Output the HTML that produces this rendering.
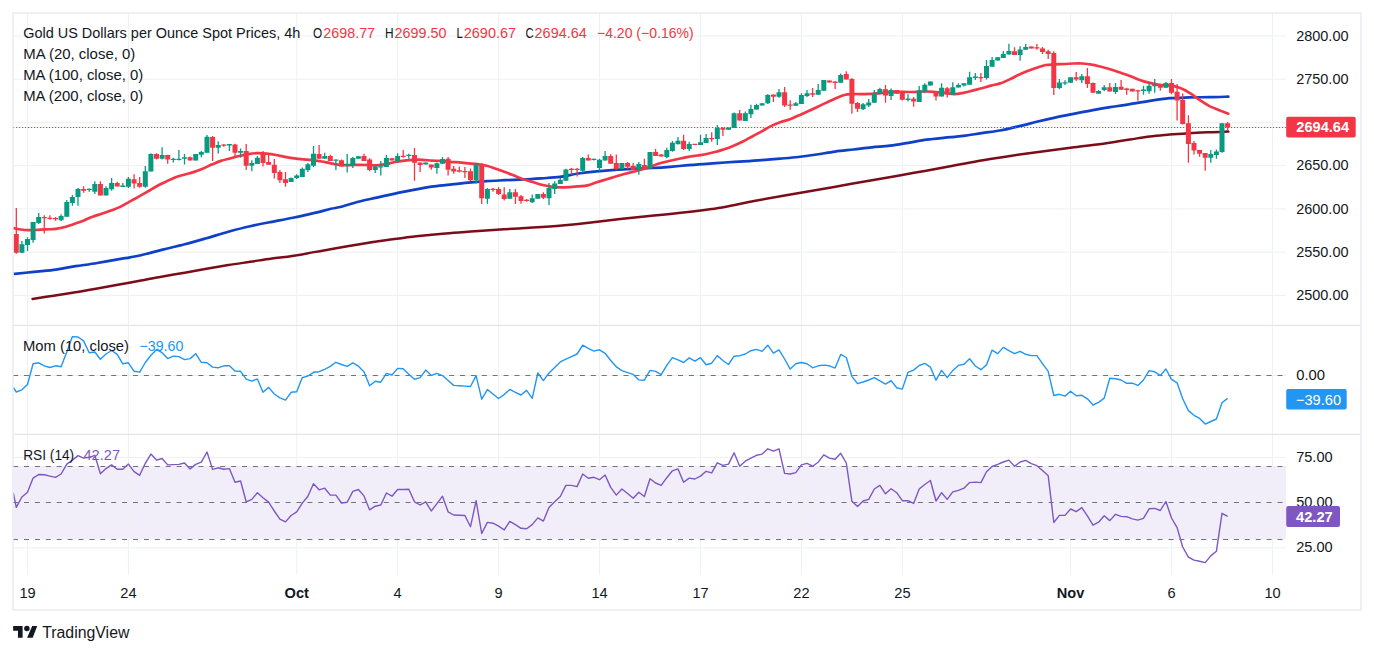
<!DOCTYPE html>
<html><head><meta charset="utf-8"><title>Gold Spot 4h</title>
<style>html,body{margin:0;padding:0;background:#fff}body{width:1374px;height:654px;overflow:hidden;font-family:"Liberation Sans",sans-serif}svg text{white-space:pre}</style>
</head><body>
<svg width="1374" height="654" viewBox="0 0 1374 654" style="display:block">
<rect width="1374" height="654" fill="#fff"/>
<rect x="14" y="466" width="1272" height="73" fill="#f1eefa"/>
<path d="M27.5 14V574.8M128.4 14V574.8M296.7 14V574.8M397.6 14V574.8M498.6 14V574.8M599.5 14V574.8M700.5 14V574.8M801.4 14V574.8M902.4 14V574.8M1070.6 14V574.8M1171.6 14V574.8M1272.5 14V574.8M14 35.9H1286M14 79.2H1286M14 122.4H1286M14 165.7H1286M14 208.9H1286M14 252.2H1286M14 295.4H1286M14 375.5H1286M14 457.4H1286M14 502.5H1286M14 547.8H1286" stroke="#eef0f2" stroke-width="1" fill="none"/>
<path d="M14 325.4H1360M14 434.4H1360" stroke="#e2e4ee" stroke-width="1.2" fill="none"/>
<rect x="13" y="13" width="1348" height="597" fill="none" stroke="#eef0f5" stroke-width="2"/>
<clipPath id="c"><rect x="13.6" y="14" width="1272.4" height="561"/></clipPath>
<g clip-path="url(#c)">
<path d="M13.1 375.5H1286M13.1 466.5H1286M13.1 502.5H1286M13.1 539.5H1286" stroke="#70737e" stroke-width="1.2" stroke-dasharray="5 5.9" fill="none"/>
<path d="M32.5 298.9C36 298.4 46.5 296.8 53.7 295.7C60.9 294.6 68.2 293.4 75.5 292.2C82.8 291 90 289.7 97.3 288.4C104.6 287.1 111.9 285.9 119.2 284.6C126.5 283.3 133.7 282 141 280.6C148.3 279.2 155.5 277.7 162.8 276.4C170.1 275.1 177.4 274 184.7 272.7C192 271.4 199.2 270.1 206.5 268.8C213.8 267.5 221 266.3 228.3 265.1C235.6 263.9 242.9 262.9 250.2 261.8C257.5 260.7 264.7 259.5 272 258.5C279.3 257.5 284.3 257.3 293.8 255.8C303.3 254.3 318.4 251.3 329.1 249.4C339.8 247.5 348.5 246 358.2 244.4C367.9 242.8 377.6 241.4 387.3 240.1C397 238.8 406.7 237.4 416.4 236.3C426.1 235.2 435.9 234.2 445.6 233.4C455.3 232.6 465 232 474.7 231.3C484.4 230.6 494.1 229.9 503.8 229.3C513.5 228.7 523.2 228.1 532.9 227.5C542.6 226.9 552.3 226.3 562 225.5C571.7 224.7 581.4 223.7 591.1 222.6C600.8 221.5 610.5 220.2 620.2 219.1C629.9 218 639.6 216.9 649.3 215.9C659 214.9 666.4 214.4 678.5 213C690.6 211.6 709.4 209.4 722 207.4C734.6 205.4 743.3 203 754 201C764.7 199 775.4 197.1 786.1 195.2C796.8 193.3 807.4 191.7 818.1 189.8C828.8 187.9 839.4 185.9 850.1 184C860.8 182.1 871.4 180.5 882.1 178.6C892.8 176.7 903.4 174.7 914.1 172.8C924.8 170.9 935.5 169.1 946.2 167.1C956.9 165.1 967.5 162.9 978.2 161C988.9 159.1 999.5 157.5 1010.2 155.9C1020.9 154.3 1031.5 152.9 1042.2 151.4C1052.9 149.9 1063.5 148.6 1074.2 147.2C1084.9 145.8 1097 144.5 1106.3 143.2C1115.6 141.9 1122.7 140.6 1129.9 139.5C1137.2 138.4 1143.2 137.3 1149.8 136.5C1156.4 135.7 1163 135.2 1169.6 134.6C1176.2 134 1182.9 133.6 1189.5 133.2C1196.1 132.8 1202.9 132.5 1209.4 132.2C1215.9 131.9 1225.2 131.7 1228.3 131.6" stroke="#7d0c1a" stroke-width="2.5" fill="none" stroke-linecap="round" stroke-linejoin="round"/>
<path d="M14.8 273.8C17.6 273.5 25.3 272.8 31.8 272.1C38.3 271.5 46.4 270.9 53.7 269.9C61 268.9 68.2 267.3 75.5 266.2C82.8 265.1 90 264.2 97.3 263C104.6 261.8 113.7 260.1 119.2 259.2C124.7 258.2 126.5 258 130.1 257.3C133.7 256.6 135.6 256.5 141 255.2C146.4 253.9 155.5 251.4 162.8 249.6C170.1 247.8 177.4 246.2 184.7 244.3C192 242.4 199.2 240.3 206.5 238.2C213.8 236.1 221 233.7 228.3 231.7C235.6 229.7 242.9 227.8 250.2 226.2C257.5 224.5 264.7 223.2 272 221.8C279.3 220.4 287.4 218.9 294.2 217.5C301 216.1 306.5 214.8 312.6 213.4C318.7 212 326.3 209.9 330.9 208.8C335.5 207.7 335.4 208.2 340 207C344.6 205.8 352.2 203.4 358.3 201.8C364.4 200.2 370.6 199 376.7 197.6C382.8 196.2 388.9 194.9 395 193.6C401.1 192.3 407.3 191.1 413.4 189.9C419.5 188.7 425.6 187.5 431.7 186.6C437.8 185.7 444 185.3 450.1 184.6C456.2 183.9 462.2 183.2 468.3 182.6C474.4 182 480.6 181.5 486.7 181.1C492.8 180.7 498.9 180.5 505 180.2C511.1 179.9 517.3 179.7 523.4 179.4C529.5 179.1 535.6 178.7 541.7 178.3C547.8 177.9 554 177.7 560.1 176.9C566.2 176.1 572.2 174.4 578.3 173.5C584.4 172.6 590.6 171.9 596.7 171.3C602.8 170.7 608.9 170.2 615 169.8C621.1 169.4 627.3 169.2 633.4 168.9C639.5 168.6 645.6 168.3 651.7 168C657.8 167.7 664 167.3 670.1 166.8C676.2 166.3 682.2 165.7 688.3 165.2C694.4 164.7 700.6 164.2 706.7 163.8C712.8 163.4 718.9 162.9 725 162.5C731.1 162.1 737.3 161.8 743.4 161.4C749.5 161 755.6 160.6 761.7 160.1C767.8 159.6 774 159.1 780.1 158.6C786.2 158.1 792.2 157.7 798.3 157C804.4 156.3 810.6 155.4 816.7 154.5C822.8 153.6 828.9 152.4 835 151.6C841.1 150.8 847.3 150.2 853.4 149.5C859.5 148.8 865.6 147.9 871.7 147.3C877.8 146.7 884 146.4 890.1 145.7C896.2 144.9 902.2 143.8 908.3 142.8C914.4 141.8 920.6 140.5 926.7 139.7C932.8 138.8 938.9 138.3 945 137.7C951.1 137.1 957.3 136.7 963.4 135.9C969.5 135.1 975.6 134 981.7 133.1C987.8 132.2 994 131.6 1000.1 130.5C1006.2 129.4 1012.2 127.9 1018.3 126.4C1024.4 125 1030.6 123.3 1036.7 121.8C1042.8 120.3 1048.9 118.9 1055 117.6C1061.1 116.3 1067.3 115.1 1073.4 113.9C1079.5 112.7 1085.6 111.4 1091.7 110.3C1097.8 109.2 1103.7 108.2 1110.1 107.2C1116.5 106.2 1123.3 105.2 1129.9 104.1C1136.5 103 1143.2 101.8 1149.8 100.8C1156.4 99.8 1163 98.8 1169.6 98.2C1176.2 97.6 1182.9 97.6 1189.5 97.4C1196.1 97.2 1202.9 97.3 1209.4 97.2C1215.9 97.1 1225.2 96.7 1228.3 96.6" stroke="#0e41c8" stroke-width="2.7" fill="none" stroke-linecap="round" stroke-linejoin="round"/>
<path d="M13.7 228.1C14.9 228.3 18.6 229.2 21 229.5C23.4 229.8 25.6 230 28.3 230.1C31.1 230.2 34.4 230 37.5 229.9C40.6 229.8 43.6 229.6 46.7 229.4C49.8 229.2 52.9 229.2 55.9 228.8C58.9 228.4 62 227.8 65 227C68 226.2 71.1 225.1 74.2 224C77.3 222.9 80.3 221.9 83.4 220.7C86.5 219.5 89.5 217.8 92.6 216.7C95.6 215.5 98.7 214.8 101.7 213.8C104.8 212.8 107.8 211.8 110.9 210.6C114 209.4 117 208.4 120.1 206.9C123.1 205.4 126.2 203.5 129.2 201.8C132.2 200.1 135.2 198.6 138.3 196.9C141.4 195.2 144.4 193.5 147.5 191.7C150.6 189.9 153.6 187.9 156.7 186.2C159.8 184.5 162.8 183.2 165.9 181.7C169 180.2 171.9 178.6 175 177.4C178.1 176.2 181.1 175.6 184.2 174.7C187.3 173.8 190.3 173.1 193.4 172.1C196.5 171.1 199.6 170.1 202.6 168.8C205.6 167.6 208.6 165.9 211.7 164.6C214.8 163.3 217.8 161.9 220.9 160.9C224 159.9 227.1 159.3 230.1 158.5C233.1 157.7 236.2 156.7 239.2 156C242.2 155.3 245.2 154.6 248.3 154.1C251.4 153.6 254.4 153.3 257.5 153.2C260.6 153.1 263.6 153.3 266.7 153.6C269.8 153.9 272.8 154.4 275.9 155C278.9 155.6 281.9 156.3 285 156.9C288.1 157.5 291.1 157.9 294.2 158.3C297.3 158.7 300.3 159 303.4 159.3C306.5 159.6 309.6 159.8 312.6 160.2C315.7 160.6 318.6 161 321.7 161.5C324.8 162 327.8 162.8 330.9 163.3C334 163.9 337.1 164.5 340.1 164.8C343.2 165.1 346.2 165.1 349.2 165.1C352.2 165.1 355.2 164.8 358.3 164.8C361.4 164.8 364.4 164.9 367.5 165C370.6 165.1 373.6 165.4 376.7 165.3C379.8 165.2 382.8 164.8 385.9 164.2C388.9 163.6 391.9 162.6 395 162C398.1 161.4 401.1 161 404.2 160.6C407.3 160.2 410.3 159.9 413.4 159.8C416.5 159.7 419.6 159.7 422.6 159.8C425.7 159.9 428.6 160.4 431.7 160.6C434.8 160.8 437.8 160.7 440.9 160.9C444 161.1 447.1 161.6 450.1 161.8C453.2 162.1 456.2 162.2 459.2 162.4C462.2 162.7 465.2 163 468.3 163.3C471.4 163.6 474.4 163.8 477.5 164.2C480.6 164.6 483.6 164.9 486.7 165.7C489.8 166.5 492.8 167.7 495.9 168.8C498.9 169.9 501.9 171 505 172.1C508.1 173.2 511.1 174.4 514.2 175.6C517.3 176.8 520.3 178.2 523.4 179.3C526.5 180.4 529.5 181.1 532.6 182C535.7 182.9 538.7 184 541.7 184.8C544.8 185.6 547.8 186.2 550.9 186.6C554 187 557 187.3 560.1 187.4C563.2 187.5 566.2 187.3 569.2 187.1C572.2 186.9 575.2 186.6 578.3 186.3C581.3 186 584.4 186.1 587.5 185.4C590.6 184.7 593.6 183.3 596.7 182.3C599.8 181.3 602.9 180.4 605.9 179.5C608.9 178.6 612 177.7 615 176.8C618 175.9 621.1 174.8 624.2 174C627.3 173.2 630.3 172.5 633.4 171.7C636.5 170.9 639.5 170.2 642.6 169.3C645.7 168.4 648.7 167.2 651.7 166.1C654.8 165 657.8 163.9 660.9 163C664 162.1 667 161.5 670.1 160.8C673.2 160.1 676.2 159.4 679.2 158.7C682.2 158 685.2 157.3 688.3 156.8C691.3 156.3 694.4 156 697.5 155.5C700.6 155 703.6 154.6 706.7 154C709.8 153.4 712.9 152.6 715.9 151.8C718.9 151 722 150.2 725 149.1C728 148 731.1 146.7 734.2 145.4C737.3 144.1 740.3 142.7 743.4 141.2C746.5 139.7 749.5 137.8 752.6 136.2C755.7 134.5 758.7 133 761.7 131.3C764.8 129.6 767.8 127.6 770.9 126.1C774 124.6 777 123.3 780.1 122.2C783.2 121.1 786.2 120.7 789.2 119.6C792.2 118.5 795.2 116.9 798.3 115.6C801.3 114.3 804.4 113 807.5 111.6C810.6 110.2 813.6 108.8 816.7 107.3C819.8 105.8 822.9 104.3 825.9 102.9C828.9 101.5 832 100 835 98.7C838 97.4 841.1 95.8 844.2 95C847.3 94.2 850.3 94.2 853.4 94.1C856.5 93.9 859.5 94.1 862.6 94.1C865.7 94 868.7 93.9 871.7 93.8C874.8 93.7 877.8 93.5 880.9 93.2C884 92.9 887 92.4 890.1 92.2C893.2 92 896.2 91.8 899.2 91.8C902.2 91.8 905.2 92 908.3 92C911.3 92 914.4 91.9 917.5 91.8C920.6 91.7 923.6 91.5 926.7 91.5C929.8 91.5 932.9 91.8 935.9 92C938.9 92.2 942 92.5 945 92.9C948 93.3 951.1 94.2 954.2 94.2C957.3 94.2 960.3 93.5 963.4 92.9C966.5 92.3 969.5 91.4 972.6 90.6C975.7 89.8 978.7 89.1 981.7 88.3C984.8 87.5 987.8 86.4 990.9 85.6C994 84.8 997 84.4 1000.1 83.4C1003.2 82.4 1006.2 81 1009.2 79.6C1012.2 78.2 1015.2 76.4 1018.3 75C1021.3 73.6 1024.4 72.2 1027.5 71C1030.6 69.8 1033.6 68.7 1036.7 67.7C1039.8 66.7 1042.9 65.5 1045.9 65C1049 64.5 1052 64.6 1055 64.4C1058 64.2 1061.1 64.2 1064.2 64C1067.3 63.9 1070.3 63.6 1073.4 63.5C1076.5 63.4 1079.5 63.3 1082.6 63.5C1085.6 63.7 1088.7 64 1091.7 64.6C1094.8 65.1 1097.8 66 1100.9 66.8C1104 67.6 1106.9 68.2 1110.1 69.2C1113.3 70.2 1116.6 71.4 1119.9 72.5C1123.2 73.6 1126.6 74.7 1129.9 75.9C1133.2 77.1 1136.5 78.7 1139.8 79.9C1143.1 81.1 1146.5 82.1 1149.8 82.9C1153.1 83.7 1156.4 84.5 1159.7 84.9C1163 85.3 1166.3 84.9 1169.6 85.4C1172.9 85.9 1176.3 86.6 1179.6 87.8C1182.9 89 1186.2 90.8 1189.5 92.8C1192.8 94.8 1196.2 97.6 1199.5 99.8C1202.8 102 1206.1 104.3 1209.4 106.1C1212.7 107.8 1216.2 109 1219.3 110.3C1222.4 111.6 1226.8 113.1 1228.3 113.7" stroke="#f23645" stroke-width="2.7" fill="none" stroke-linecap="round" stroke-linejoin="round"/>
<path d="M21.9 240.9V252.8M27.5 237.2V251M33.1 222V242.8M38.7 213V224M61.1 214.3V221.1M66.8 200V216.7M72.4 195V205.7M78 188.1V205.7M89.2 188.6V191.7M94.8 181.3V194.1M106 186.2V195.6M111.6 178V190.8M122.8 183.1V186.8M128.4 176.9V187.9M145.3 166.1V187.7M150.9 153.2V171.6M162.1 147.3V159.6M173.3 157.8V162.4M178.9 149.9V160.6M184.5 154.1V164.6M195.7 154.1V160.6M201.3 151V157.2M207 134.9V152.7M218.2 141.3V153.6M229.4 144V151M240.6 148.6V157.8M251.8 160.2V171.2M257.4 156V163.9M291.1 177.4V182M296.7 174.3V178.9M302.3 167.5V177.1M307.9 162.9V171.9M313.5 145.9V167M324.7 152.8V158.7M335.9 159.6V170.1M347.2 154.1V172.5M352.8 156.9V167.9M358.4 156.3V158.7M375.2 166.1V173M380.8 160.9V175.6M386.4 155V167M397.6 153.2V160.9M408.8 153.8V158.7M425.7 162.4V164.6M436.9 162.4V173.8M442.5 156.9V163.7M476.1 163.3V183.5M487.4 188.1V203.7M509.8 189V198.7M532.2 194.5V203.1M537.8 194.1V198.7M549 182.9V205M554.7 181.3V193.9M560.3 178V183.9M565.9 168.8V180.7M582.7 157V172.9M593.9 158.8V160.6M599.5 158.8V171.1M605.1 150.9V160.6M621.9 163V168.9M638.8 161.9V174.8M650 152V168.5M666.8 147.8V158.3M672.4 141V151.8M678 137V144.3M689.2 141.7V150.9M700.5 134.8V144.9M706.1 134V143M717.3 124.9V144.9M728.5 127.4V129.8M734.1 112.4V128M745.3 111.5V121M750.9 104.7V117.9M756.5 103.8V109.6M762.1 103.2V105.6M767.8 94V104.1M779 88.9V97.7M795.8 102V105.7M801.4 93.2V103.9M807 90.1V96.9M818.2 84V94.7M823.8 80V90.8M840.7 73.6V82.8M863.1 102.9V110.1M868.7 99.1V107M874.3 89.9V102.8M879.9 87.7V93.8M891.1 88.6V100M908 94.2V101.6M919.2 86V101.9M924.8 83.2V93.3M930.4 81.4V85.6M941.6 83.2V96.4M952.8 82.3V94.8M958.4 83.2V87.4M964 83.2V86.5M969.6 71.8V84.7M975.3 73.1V79.9M986.5 59.9V79.5M992.1 57V66.7M997.7 57.2V60.6M1003.3 51.1V57.9M1008.9 43.8V54.6M1020.1 46.2V60.7M1025.7 43.9V49.7M1059.4 79.1V89.2M1065 80.2V85.1M1070.6 77.2V82.8M1081.8 74.1V82.9M1098.6 90.1V93.8M1104.2 85.1V91.2M1115.5 82.9V93.9M1143.5 85.8V94.8M1149.1 82.9V93.8M1154.7 78.9V92.8M1165.9 81.9V87.8M1210.8 150.1V162.8M1216.4 149.5V158.8M1222 123.2V152.8" stroke="#089981" stroke-width="1.3" fill="none"/>
<path d="M19.4 244.2H24.4V252.8H19.4ZM25 239.1H30V245H25ZM30.6 222H35.6V240H30.6ZM36.2 217.1H41.2V222.9H36.2ZM58.6 216.1H63.6V220.2H58.6ZM64.3 202H69.3V216.7H64.3ZM69.9 196.9H74.9V202.9H69.9ZM75.5 189H80.5V196.9H75.5ZM86.7 188.8H91.7V190.1H86.7ZM92.3 184H97.3V191.7H92.3ZM103.5 188.1H108.5V195.6H103.5ZM109.1 183.1H114.1V189.2H109.1ZM120.3 185.6H125.3V186.9H120.3ZM125.9 178.7H130.9V186.8H125.9ZM142.8 171.2H147.8V186.8H142.8ZM148.4 154.1H153.4V171.6H148.4ZM159.6 155H164.6V158.7H159.6ZM170.8 158.8H175.8V160.1H170.8ZM176.4 158.8H181.4V160.1H176.4ZM182 157.2H187V158.7H182ZM193.2 154.1H198.2V160.6H193.2ZM198.8 151.9H203.8V154.7H198.8ZM204.5 136.7H209.5V152.7H204.5ZM215.7 145H220.7V147.7H215.7ZM226.9 144.1H231.9V145.4H226.9ZM238.1 151H243.1V152.8H238.1ZM249.3 162.9H254.3V165.7H249.3ZM254.9 157.8H259.9V163.9H254.9ZM288.6 178H293.6V182H288.6ZM294.2 175.6H299.2V178H294.2ZM299.8 168.8H304.8V177.1H299.8ZM305.4 164.2H310.4V170.1H305.4ZM311 153.8H316V165.7H311ZM322.2 156H327.2V158.7H322.2ZM333.4 159.5H338.4V160.8H333.4ZM344.7 164.1H349.7V165.4H344.7ZM350.3 158H355.3V166.1H350.3ZM355.9 156.3H360.9V158.7H355.9ZM372.7 166.6H377.7V170.1H372.7ZM378.3 166.2H383.3V167.5H378.3ZM383.9 158H388.9V167H383.9ZM395.1 156H400.1V160.9H395.1ZM406.3 154.8H411.3V156.1H406.3ZM423.2 162.4H428.2V164.6H423.2ZM434.4 163.3H439.4V167.9H434.4ZM440 159.1H445V163.7H440ZM473.6 164.6H478.6V180.2H473.6ZM484.9 189H489.9V198.7H484.9ZM507.3 192.3H512.3V198.7H507.3ZM529.7 198.2H534.7V202.2H529.7ZM535.3 194.1H540.3V198.7H535.3ZM546.5 188.1H551.5V198.2H546.5ZM552.2 183.5H557.2V189H552.2ZM557.8 179.8H562.8V183.9H557.8ZM563.4 169.4H568.4V180.7H563.4ZM580.2 157.9H585.2V170.7H580.2ZM591.4 158.7H596.4V160H591.4ZM597 159.7H602V168H597ZM602.6 156.1H607.6V160.6H602.6ZM619.4 163H624.4V168.9H619.4ZM636.3 163.9H641.3V169.8H636.3ZM647.5 152H652.5V168.5H647.5ZM664.3 150H669.3V157H664.3ZM669.9 142.8H674.9V150.9H669.9ZM675.5 140.8H680.5V144.3H675.5ZM686.7 144.1H691.7V149.1H686.7ZM698 142.3H703V144.9H698ZM703.6 138.1H708.6V143H703.6ZM714.8 128H719.8V139H714.8ZM726 127.4H731V129.8H726ZM731.6 113.3H736.6V128H731.6ZM742.8 113.3H747.8V121H742.8ZM748.4 109.1H753.4V114.2H748.4ZM754 105H759V109.6H754ZM759.6 103.2H764.6V105.6H759.6ZM765.3 95H770.3V103.2H765.3ZM776.5 92.2H781.5V96.8H776.5ZM793.3 103.3H798.3V105.7H793.3ZM798.9 95H803.9V103.9H798.9ZM804.5 93.2H809.5V96H804.5ZM815.7 90.1H820.7V94.7H815.7ZM821.3 80H826.3V90.8H821.3ZM838.2 74.9H843.2V82.8H838.2ZM860.6 104.2H865.6V109.2H860.6ZM866.2 102.4H871.2V105.5H866.2ZM871.8 93.2H876.8V102.8H871.8ZM877.4 89H882.4V93.8H877.4ZM888.6 89.9H893.6V96H888.6ZM905.5 98.6H910.5V99.9H905.5ZM916.7 90.2H921.7V101.9H916.7ZM922.3 84.7H927.3V91.5H922.3ZM927.9 81.4H932.9V85.6H927.9ZM939.1 87.8H944.1V96.4H939.1ZM950.3 87.2H955.3V94.8H950.3ZM955.9 85H960.9V87.4H955.9ZM961.5 83.2H966.5V85.6H961.5ZM967.1 77.2H972.1V84.7H967.1ZM972.8 76.6H977.8V77.9H972.8ZM984 66.1H989V78.1H984ZM989.6 59.9H994.6V66.7H989.6ZM995.2 57.2H1000.2V60.6H995.2ZM1000.8 53.9H1005.8V57.9H1000.8ZM1006.4 51.1H1011.4V54.6H1006.4ZM1017.6 49.4H1022.6V54.9H1017.6ZM1023.2 47H1028.2V49.7H1023.2ZM1056.9 82.4H1061.9V87.9H1056.9ZM1062.5 82.2H1067.5V83.5H1062.5ZM1068.1 77.2H1073.1V82.8H1068.1ZM1079.3 76.3H1084.3V80.2H1079.3ZM1096.1 91H1101.1V93.8H1096.1ZM1101.7 87.3H1106.7V90.1H1101.7ZM1113 87H1118V91.9H1113ZM1141 89.6H1146V91H1141ZM1146.6 85.8H1151.6V91.2H1146.6ZM1152.2 84.9H1157.2V86.2H1152.2ZM1163.4 83.1H1168.4V87.8H1163.4ZM1208.3 154H1213.3V157.8H1208.3ZM1213.9 151.5H1218.9V155H1213.9ZM1219.5 123.2H1224.5V152H1219.5Z" fill="#089981"/>
<path d="M16.3 207.9V253.8M44.3 215.2V233.6M49.9 215.2V219.8M55.5 217V220.7M83.6 186.2V192.8M100.4 181.3V195.6M117.2 181.8V186.4M134.1 174.3V188.6M139.7 177.1V187.7M156.5 153.2V159.6M167.7 154.7V163.7M190.1 156.5V160.6M212.6 136.1V160.9M223.8 144V146.8M235 143.7V156M246.2 144V170.1M263 151V166.4M268.6 154.7V164.8M274.3 159.1V178.5M279.9 170.1V182.9M285.5 172.1V186.8M319.1 145V158.7M330.3 154.7V161.1M341.5 159.6V166.4M364 153.8V160.9M369.6 158.3V171.2M392 158.3V160.6M403.2 149.9V157.8M414.5 148.1V180.7M420.1 162.4V171.9M431.3 164.6V169.7M448.1 156.9V175.6M453.7 166.1V173.8M459.3 166.6V172.5M464.9 167V178M470.5 168.4V181.1M481.7 162.9V204M493 188.1V191.7M498.6 187.2V194.9M504.2 187.2V200.4M515.4 189V204M521 195V203.7M526.6 199.1V201.8M543.4 192.3V199.1M571.5 168V174.8M577.1 168V176.6M588.3 154.6V160.6M610.7 154.2V163.8M616.3 154.6V169.8M627.6 161.9V168.9M633.2 163V169.8M644.4 158.8V168.9M655.6 149.1V156.1M661.2 153.9V156.4M683.6 134.8V150M694.9 144V144.9M711.7 132.2V141.7M722.9 127.1V135.9M739.7 110V120.6M773.4 94.6V101.9M784.6 87.1V106.9M790.2 100.2V109.7M812.6 88.1V96.9M829.4 80.4V82.6M835.1 81.3V89M846.3 71.2V79.4M851.9 78V113.8M857.5 102V111.9M885.5 85V102.8M896.7 90.1V93.7M902.3 92.4V100.6M913.6 97V106.7M936 91.5V100.6M947.2 86.9V97.5M980.9 73.1V81.9M1014.5 47.2V54.9M1031.3 46.6V48.4M1036.9 43.9V49.7M1042.5 47V53.9M1048.2 49.7V59.1M1053.8 51.2V94.9M1076.2 71.9V81.1M1087.4 68.1V87.9M1093 82.4V92.8M1109.8 82.9V91.6M1121.1 79.9V89.8M1126.7 87.8V94.8M1132.3 88.8V91.4M1137.9 89.8V100.8M1160.3 84.9V90.8M1171.5 78.9V94.2M1177.1 83.9V120.6M1182.7 93.4V124.6M1188.4 115.3V162.8M1194 141.1V154.4M1199.6 150.1V156.8M1205.2 153V170.7M1227.6 122V130" stroke="#f23645" stroke-width="1.3" fill="none"/>
<path d="M13.8 234.1H18.8V252.8H13.8ZM41.8 216.9H46.8V218.2H41.8ZM47.4 217.8H52.4V219.1H47.4ZM53 218H58V219.3H53ZM81.1 189H86.1V190.8H81.1ZM97.9 184H102.9V195.6H97.9ZM114.7 183.1H119.7V186.4H114.7ZM131.6 179.3H136.6V183.5H131.6ZM137.2 183.1H142.2V186.8H137.2ZM154 154.1H159V158.7H154ZM165.2 155H170.2V159.6H165.2ZM187.6 157.2H192.6V160.6H187.6ZM210.1 137.1H215.1V147.7H210.1ZM221.3 144.5H226.3V145.8H221.3ZM232.5 144.6H237.5V152.7H232.5ZM243.7 151H248.7V165.7H243.7ZM260.5 153.6H265.5V162.9H260.5ZM266.1 162H271.1V164.8H266.1ZM271.8 164.8H276.8V173H271.8ZM277.4 172.1H282.4V180.2H277.4ZM283 179.3H288V182.9H283ZM316.6 154.1H321.6V158.7H316.6ZM327.8 156H332.8V161.1H327.8ZM339 160.2H344V166.4H339ZM361.5 156H366.5V160.9H361.5ZM367.1 159.6H372.1V170.1H367.1ZM389.5 158.3H394.5V160.6H389.5ZM400.7 155.8H405.7V157.1H400.7ZM412 155H417V162.8H412ZM417.6 162.4H422.6V165.1H417.6ZM428.8 164.6H433.8V167.5H428.8ZM445.6 158.7H450.6V169.7H445.6ZM451.2 168.8H456.2V171.6H451.2ZM456.8 170.3H461.8V171.7H456.8ZM462.4 170.9H467.4V172.2H462.4ZM468 171.2H473V180.2H468ZM479.2 164.6H484.2V198.2H479.2ZM490.5 188.8H495.5V190.1H490.5ZM496.1 189H501.1V193.9H496.1ZM501.7 194.5H506.7V199.1H501.7ZM512.9 192.3H517.9V196.7H512.9ZM518.5 196.3H523.5V200.9H518.5ZM524.1 199.8H529.1V201.1H524.1ZM540.9 194.1H545.9V197.8H540.9ZM569 168.7H574V170H569ZM574.6 168.7H579.6V170H574.6ZM585.8 157.9H590.8V160.6H585.8ZM608.2 156.1H613.2V163.8H608.2ZM613.8 163H618.8V168.9H613.8ZM625.1 163H630.1V166.7H625.1ZM630.7 165.8H635.7V169.8H630.7ZM641.9 164.9H646.9V168H641.9ZM653.1 152H658.1V156.1H653.1ZM658.7 154.6H663.7V156.4H658.7ZM681.1 140.8H686.1V149.1H681.1ZM692.4 143.8H697.4V145.1H692.4ZM709.2 137.9H714.2V139.2H709.2ZM720.4 128H725.4V129.8H720.4ZM737.2 113.3H742.2V120.6H737.2ZM770.9 94.6H775.9V96.8H770.9ZM782.1 92.2H787.1V105.6H782.1ZM787.7 104.4H792.7V105.7H787.7ZM810.1 93.2H815.1V94.7H810.1ZM826.9 80.4H831.9V82.6H826.9ZM832.6 81.6H837.6V83H832.6ZM843.8 73.9H848.8V79.4H843.8ZM849.4 78.9H854.4V103.7H849.4ZM855 102.9H860V108.8H855ZM883 89.2H888V95.6H883ZM894.2 90.1H899.2V93.7H894.2ZM899.8 92.4H904.8V99.7H899.8ZM911.1 98.8H916.1V101.6H911.1ZM933.5 91.5H938.5V96.4H933.5ZM944.7 88.3H949.7V94.6H944.7ZM978.4 77H983.4V78.3H978.4ZM1012 51.2H1017V54.9H1012ZM1028.8 46.6H1033.8V48.4H1028.8ZM1034.4 47.3H1039.4V48.6H1034.4ZM1040 48.4H1045V52.1H1040ZM1045.7 51.2H1050.7V53.9H1045.7ZM1051.3 53H1056.3V87.9H1051.3ZM1073.7 77.2H1078.7V79.6H1073.7ZM1084.9 76.3H1089.9V83.9H1084.9ZM1090.5 82.9H1095.5V92.8H1090.5ZM1107.3 87.3H1112.3V91.6H1107.3ZM1118.6 86.8H1123.6V89.8H1118.6ZM1124.2 88.6H1129.2V90H1124.2ZM1129.8 88.8H1134.8V91.4H1129.8ZM1135.4 90.2H1140.4V91.6H1135.4ZM1157.8 84.9H1162.8V87.8H1157.8ZM1169 82.9H1174V92.8H1169ZM1174.6 91.8H1179.6V100.4H1174.6ZM1180.2 99.8H1185.2V124H1180.2ZM1185.9 123.2H1190.9V143.9H1185.9ZM1191.5 143.1H1196.5V150.5H1191.5ZM1197.1 150.1H1202.1V153.8H1197.1ZM1202.7 153H1207.7V157.8H1202.7ZM1225.1 123.2H1230.1V127.6H1225.1Z" fill="#f23645"/>
<path d="M13 127.5H1286" stroke="#f23645" stroke-width="1.2" stroke-dasharray="1.25 1.75" fill="none"/>
<path d="M13.3 387.4L16.3 392L21.9 389.8L27.5 384.5L33.1 363.8L38.7 362.8L44.3 365.8L49.9 367.5L55.5 365.8L61.1 366.7L66.8 352L72.4 336.6L78 337L83.6 340.9L89.2 352.7L94.8 352L100.4 359.2L106 354L111.6 350.5L117.2 354.4L122.8 363.8L128.4 362.8L134.1 371.3L139.7 372.1L145.3 362.5L150.9 355.3L156.5 349.7L162.1 352.7L167.7 358.6L173.3 356.2L178.9 356.6L184.5 359.6L190.1 358.6L195.7 353.7L201.3 362.3L207 362.8L212.6 367.1L218.2 367.8L223.8 365.8L229.4 365.8L235 371L240.6 371.3L246.2 379.2L251.8 381.2L257.4 378.9L263 392.3L268.6 387.4L274.3 394L279.9 397.9L285.5 400.1L291.1 392.3L296.7 391.7L302.3 377.6L307.9 376L313.5 372.3L319.1 371.7L324.7 369.3L330.3 366.4L335.9 362.3L341.5 364.5L347.2 366.4L352.8 362.8L358.4 366.2L364 371.7L369.6 385.8L375.2 381.2L380.8 382.2L386.4 373.4L392 375L397.6 368.4L403.2 368.7L408.8 374.3L414.5 379.3L420.1 377.6L425.7 370.1L431.3 375.4L436.9 373.3L442.5 375.6L448.1 380.6L453.7 385.4L459.3 385.7L464.9 386.1L470.5 386.5L476.1 375.6L481.7 399.2L487.4 389.6L493 394L498.6 398.5L504.2 394.6L509.8 389.4L515.4 392.3L521 395L526.6 390.4L532.2 398.3L537.8 373L543.4 380.6L549 373L554.7 367.4L560.3 361.9L565.9 359.2L571.5 356.6L577.1 354L582.7 345.2L588.3 348.4L593.9 351.1L599.5 349.8L605.1 353.3L610.7 360.5L616.3 366.8L621.9 370.6L627.6 372.7L633.2 374.3L638.8 379.9L644.4 380.2L650 370.4L655.6 371.4L661.2 374.7L666.8 365.4L672.4 357.7L678 359.9L683.6 362.5L689.2 357.9L694.9 361.1L700.5 357.7L706.1 364.7L711.7 363.2L717.3 355.6L722.9 360.5L728.5 364.5L734.1 356.2L739.7 355.7L745.3 354L750.9 350.7L756.5 349.4L762.1 351.4L767.8 345.2L773.4 353.1L779 349.8L784.6 359L790.2 369.1L795.8 363.8L801.4 362.5L807 363.8L812.6 367.8L818.2 365.8L823.8 365.1L829.4 365.8L835.1 368.1L840.7 354.4L846.3 357.5L851.9 376.3L857.5 383.7L863.1 382L868.7 380L874.3 377.6L879.9 380.9L885.5 384.1L891.1 380.6L896.7 387.7L902.3 389.1L908 372.3L913.6 370.1L919.2 365.5L924.8 363.4L930.4 367.1L936 380.2L941.6 370.4L947.2 377.6L952.8 370.4L958.4 365.4L964 364.2L969.6 358.8L975.3 366L980.9 369.7L986.5 364.9L992.1 350.1L997.7 353.6L1003.3 347.4L1008.9 350.7L1014.5 353.7L1020.1 351.4L1025.7 354.3L1031.3 355.6L1036.9 355.6L1042.5 363.7L1048.2 371.3L1053.8 395.5L1059.4 394.3L1065 396.1L1070.6 391.2L1076.2 395.8L1081.8 395.3L1087.4 398.8L1093 405L1098.6 402.4L1104.2 398.1L1109.8 378.2L1115.5 378.7L1121.1 380L1126.7 383.3L1132.3 383.1L1137.9 385.4L1143.5 380L1149.1 370.6L1154.7 371.8L1160.3 375.6L1165.9 369L1171.5 379.3L1177.1 382.8L1182.7 398.8L1188.4 410.6L1194 415.3L1199.6 418.4L1205.2 424.1L1210.8 421.5L1216.4 419L1222 402.7L1227.6 398.4" stroke="#2196f3" stroke-width="1.4" fill="none" stroke-linejoin="round"/>
<path d="M13.3 493L16.3 507.4L21.9 497L27.5 492.2L33.1 478.1L38.7 474.5L44.3 474.8L49.9 476.1L55.5 477.4L61.1 474L66.8 464.1L72.4 460.1L78 455.6L83.6 458.1L89.2 457.3L94.8 455.3L100.4 473.7L106 468.6L111.6 464.9L117.2 469.2L122.8 469.2L128.4 464.1L134.1 471.6L139.7 475.3L145.3 463.3L150.9 454.1L156.5 460.1L162.1 458.5L167.7 464.9L173.3 464.6L178.9 464.4L184.5 463L190.1 468.9L195.7 464.4L201.3 462.2L207 452L212.6 469.4L218.2 467.8L223.8 469.3L229.4 468.6L235 482.2L240.6 481L246.2 501.8L251.8 499.4L257.4 492.7L263 497.8L268.6 502.1L274.3 511L279.9 519.2L285.5 521.9L291.1 515.5L296.7 511.9L302.3 503.1L307.9 496.2L313.5 483.8L319.1 489.8L324.7 488.2L330.3 495.1L335.9 495.1L341.5 503L347.2 502.3L352.8 491.4L358.4 489.5L364 495.9L369.6 509.9L375.2 506.2L380.8 505L386.4 493L392 496.2L397.6 489.5L403.2 489.5L408.8 489.3L414.5 501.8L420.1 505L425.7 501.8L431.3 511L436.9 503.6L442.5 496.2L448.1 511.8L453.7 515L459.3 515.2L464.9 515.5L470.5 526.7L476.1 500.7L481.7 533.5L487.4 522.4L493 523.2L498.6 526.2L504.2 529.9L509.8 521.4L515.4 524.6L521 528.3L526.6 528.8L532.2 524.6L537.8 517.9L543.4 521.1L549 507.4L554.7 501.8L560.3 496.5L565.9 485.4L571.5 485.4L577.1 486.6L582.7 474L588.3 478.2L593.9 477.3L599.5 479.7L605.1 475L610.7 487.4L616.3 495.1L621.9 489L627.6 493.5L633.2 498.3L638.8 492.2L644.4 496.5L650 478.7L655.6 483L661.2 485.3L666.8 477.7L672.4 470.8L678 468.9L683.6 482.2L689.2 478.1L694.9 479L700.5 476.1L706.1 471.3L711.7 472.9L717.3 462.8L722.9 465.4L728.5 464.1L734.1 452.8L739.7 466.2L745.3 461.2L750.9 458.1L756.5 455.3L762.1 454.1L767.8 448.8L773.4 451.2L779 448.8L784.6 473.4L790.2 474L795.8 472.6L801.4 464.9L807 463.3L812.6 466.2L818.2 462.2L823.8 454.8L829.4 458.1L835.1 459.3L840.7 453.3L846.3 463L851.9 501.3L857.5 506.4L863.1 501L868.7 499.4L874.3 489L879.9 485.4L885.5 493.8L891.1 488.7L896.7 492.7L902.3 500.7L908 500.7L913.6 503.4L919.2 489L924.8 484.5L930.4 480.5L936 501L941.6 492.7L947.2 499.4L952.8 491.9L958.4 490.3L964 488.2L969.6 482.6L975.3 482.1L980.9 482.6L986.5 471.8L992.1 466.5L997.7 464.4L1003.3 462L1008.9 460.1L1014.5 466.2L1020.1 462L1025.7 460.4L1031.3 463.6L1036.9 465.7L1042.5 470.5L1048.2 475.7L1053.8 522.5L1059.4 515.4L1065 515.4L1070.6 509L1076.2 511.6L1081.8 507.6L1087.4 515.8L1093 525.1L1098.6 522.2L1104.2 515.8L1109.8 520.6L1115.5 514.3L1121.1 516.4L1126.7 516.7L1132.3 518.9L1137.9 520.1L1143.5 518.4L1149.1 508.8L1154.7 508.4L1160.3 510.5L1165.9 501.5L1171.5 518L1177.1 527.6L1182.7 547L1188.4 557.1L1194 560.1L1199.6 561.3L1205.2 562.6L1210.8 555.9L1216.4 551.3L1222 513.3L1227.6 516.4" stroke="#7e57c2" stroke-width="1.4" fill="none" stroke-linejoin="round"/>
</g>
<text x="23.2" y="37.6" font-size="14.5" fill="#131722" font-family="Liberation Sans, sans-serif" textLength="277.2" lengthAdjust="spacingAndGlyphs">Gold US Dollars per Ounce Spot Prices, 4h</text>
<text x="313.1" y="37.6" font-size="14.5" fill="#131722" font-family="Liberation Sans, sans-serif" textLength="9.2" lengthAdjust="spacingAndGlyphs">O</text>
<text x="323.3" y="37.6" font-size="14.5" fill="#f23645" font-family="Liberation Sans, sans-serif" textLength="51.8" lengthAdjust="spacingAndGlyphs">2698.77</text>
<text x="385" y="37.6" font-size="14.5" fill="#131722" font-family="Liberation Sans, sans-serif" textLength="8.6" lengthAdjust="spacingAndGlyphs">H</text>
<text x="394.6" y="37.6" font-size="14.5" fill="#f23645" font-family="Liberation Sans, sans-serif" textLength="51.8" lengthAdjust="spacingAndGlyphs">2699.50</text>
<text x="456.6" y="37.6" font-size="14.5" fill="#131722" font-family="Liberation Sans, sans-serif" textLength="6.4" lengthAdjust="spacingAndGlyphs">L</text>
<text x="463.8" y="37.6" font-size="14.5" fill="#f23645" font-family="Liberation Sans, sans-serif" textLength="52.2" lengthAdjust="spacingAndGlyphs">2690.67</text>
<text x="525.6" y="37.6" font-size="14.5" fill="#131722" font-family="Liberation Sans, sans-serif" textLength="8.2" lengthAdjust="spacingAndGlyphs">C</text>
<text x="534.6" y="37.6" font-size="14.5" fill="#f23645" font-family="Liberation Sans, sans-serif" textLength="52.2" lengthAdjust="spacingAndGlyphs">2694.64</text>
<text x="597" y="37.6" font-size="14.5" fill="#f23645" font-family="Liberation Sans, sans-serif" textLength="96.6" lengthAdjust="spacingAndGlyphs">−4.20 (−0.16%)</text>
<text x="23.2" y="58.7" font-size="14.5" fill="#131722" font-family="Liberation Sans, sans-serif" textLength="112.1" lengthAdjust="spacingAndGlyphs">MA (20, close, 0)</text>
<text x="23.2" y="79.7" font-size="14.5" fill="#131722" font-family="Liberation Sans, sans-serif" textLength="120" lengthAdjust="spacingAndGlyphs">MA (100, close, 0)</text>
<text x="23.2" y="100.7" font-size="14.5" fill="#131722" font-family="Liberation Sans, sans-serif" textLength="120" lengthAdjust="spacingAndGlyphs">MA (200, close, 0)</text>
<text x="23" y="351" font-size="14.5" fill="#131722" font-family="Liberation Sans, sans-serif" textLength="106" lengthAdjust="spacingAndGlyphs">Mom (10, close)</text>
<text x="139.4" y="351" font-size="14.5" fill="#2196f3" font-family="Liberation Sans, sans-serif" textLength="44" lengthAdjust="spacingAndGlyphs">−39.60</text>
<text x="23.2" y="459.6" font-size="14.5" fill="#131722" font-family="Liberation Sans, sans-serif" textLength="51" lengthAdjust="spacingAndGlyphs">RSI (14)</text>
<text x="83.5" y="459.6" font-size="14.5" fill="#7e57c2" font-family="Liberation Sans, sans-serif" textLength="36.5" lengthAdjust="spacingAndGlyphs">42.27</text>
<text x="1296.2" y="40.6" font-size="14.8" fill="#131722" font-family="Liberation Sans, sans-serif" textLength="52.3" lengthAdjust="spacingAndGlyphs">2800.00</text>
<text x="1296.2" y="83.9" font-size="14.8" fill="#131722" font-family="Liberation Sans, sans-serif" textLength="52.3" lengthAdjust="spacingAndGlyphs">2750.00</text>
<text x="1296.2" y="170.3" font-size="14.8" fill="#131722" font-family="Liberation Sans, sans-serif" textLength="52.3" lengthAdjust="spacingAndGlyphs">2650.00</text>
<text x="1296.2" y="213.6" font-size="14.8" fill="#131722" font-family="Liberation Sans, sans-serif" textLength="52.3" lengthAdjust="spacingAndGlyphs">2600.00</text>
<text x="1296.2" y="256.9" font-size="14.8" fill="#131722" font-family="Liberation Sans, sans-serif" textLength="52.3" lengthAdjust="spacingAndGlyphs">2550.00</text>
<text x="1296.2" y="300.1" font-size="14.8" fill="#131722" font-family="Liberation Sans, sans-serif" textLength="52.3" lengthAdjust="spacingAndGlyphs">2500.00</text>
<text x="1296.2" y="380.2" font-size="14.8" fill="#131722" font-family="Liberation Sans, sans-serif" textLength="28.8" lengthAdjust="spacingAndGlyphs">0.00</text>
<text x="1296.2" y="462.1" font-size="14.8" fill="#131722" font-family="Liberation Sans, sans-serif" textLength="36.4" lengthAdjust="spacingAndGlyphs">75.00</text>
<text x="1296.2" y="507.2" font-size="14.8" fill="#131722" font-family="Liberation Sans, sans-serif" textLength="36.4" lengthAdjust="spacingAndGlyphs">50.00</text>
<text x="1296.2" y="552.4" font-size="14.8" fill="#131722" font-family="Liberation Sans, sans-serif" textLength="36.4" lengthAdjust="spacingAndGlyphs">25.00</text>
<rect x="1286.2" y="116.8" width="69.5" height="20.6" rx="2" fill="#f23645"/>
<text x="1296.3" y="132.4" font-size="14.8" fill="#fff" font-family="Liberation Sans, sans-serif" font-weight="bold" textLength="52.8" lengthAdjust="spacingAndGlyphs">2694.64</text>
<rect x="1286.2" y="389.1" width="60.5" height="20.5" rx="2" fill="#2196f3"/>
<text x="1296" y="404.7" font-size="14.8" fill="#fff" font-family="Liberation Sans, sans-serif" textLength="45" lengthAdjust="spacingAndGlyphs">−39.60</text>
<rect x="1286.2" y="506.1" width="53.8" height="20.9" rx="2" fill="#7e57c2"/>
<text x="1296" y="521.7" font-size="14.8" fill="#fff" font-family="Liberation Sans, sans-serif" font-weight="bold" textLength="36.7" lengthAdjust="spacingAndGlyphs">42.27</text>
<text x="27.5" y="598.3" font-size="14.6" fill="#131722" font-family="Liberation Sans, sans-serif" text-anchor="middle">19</text>
<text x="128.4" y="598.3" font-size="14.6" fill="#131722" font-family="Liberation Sans, sans-serif" text-anchor="middle">24</text>
<text x="296.7" y="598.3" font-size="14.6" fill="#131722" font-family="Liberation Sans, sans-serif" font-weight="bold" text-anchor="middle">Oct</text>
<text x="397.6" y="598.3" font-size="14.6" fill="#131722" font-family="Liberation Sans, sans-serif" text-anchor="middle">4</text>
<text x="498.6" y="598.3" font-size="14.6" fill="#131722" font-family="Liberation Sans, sans-serif" text-anchor="middle">9</text>
<text x="599.5" y="598.3" font-size="14.6" fill="#131722" font-family="Liberation Sans, sans-serif" text-anchor="middle">14</text>
<text x="700.5" y="598.3" font-size="14.6" fill="#131722" font-family="Liberation Sans, sans-serif" text-anchor="middle">17</text>
<text x="801.4" y="598.3" font-size="14.6" fill="#131722" font-family="Liberation Sans, sans-serif" text-anchor="middle">22</text>
<text x="902.4" y="598.3" font-size="14.6" fill="#131722" font-family="Liberation Sans, sans-serif" text-anchor="middle">25</text>
<text x="1070.6" y="598.3" font-size="14.6" fill="#131722" font-family="Liberation Sans, sans-serif" font-weight="bold" text-anchor="middle">Nov</text>
<text x="1171.6" y="598.3" font-size="14.6" fill="#131722" font-family="Liberation Sans, sans-serif" text-anchor="middle">6</text>
<text x="1272.5" y="598.3" font-size="14.6" fill="#131722" font-family="Liberation Sans, sans-serif" text-anchor="middle">10</text>
<g fill="#131722"><path d="M13.15 625.9H22.6V637.65H17.95V630.7H13.15Z"/><circle cx="26.9" cy="628.4" r="2.75"/><path d="M32.2 625.9H37.2L32.7 637.65H27.1Z"/></g>
<text x="42.2" y="637.9" font-size="16" fill="#131722" font-family="Liberation Sans, sans-serif" textLength="87.2" lengthAdjust="spacingAndGlyphs">TradingView</text>
</svg>
</body></html>
